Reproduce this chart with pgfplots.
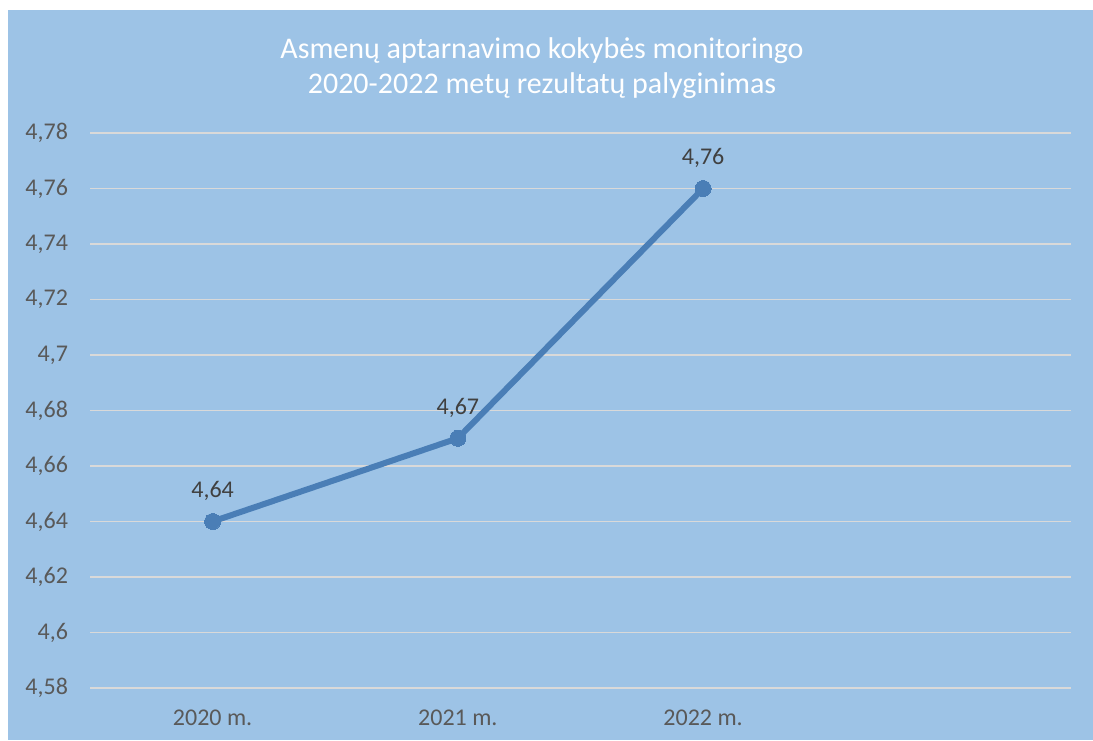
\documentclass[border=0pt]{standalone}
\usepackage{fontspec}
\setmainfont{Carlito}
\usepackage{pgfplots}
\pgfplotsset{compat=1.18}
\definecolor{bgblue}{HTML}{9DC3E6}
\definecolor{gridc}{HTML}{D9D9D9}
\definecolor{linec}{HTML}{4A7EB6}
\definecolor{tickc}{HTML}{595959}
\definecolor{labc}{HTML}{404040}
\begin{document}
\begin{tikzpicture}
\useasboundingbox (0,0) rectangle (546.5pt,370pt);
\fill[white] (0,0) rectangle (546.5pt,370pt);
\fill[bgblue] (4pt,0) rectangle (546.5pt,365pt);
\node[white, align=center, font=\fontsize{15}{17.5}\selectfont] at (271pt,336pt)
  {Asmenų aptarnavimo kokybės monitoringo\\2020-2022 metų rezultatų palyginimas};
\begin{axis}[
  at={(45pt,26pt)}, anchor=south west,
  scale only axis, width=490.5pt, height=277.5pt,
  xmin=-0.5, xmax=3.5, ymin=4.58, ymax=4.78,
  xtick={0,1,2}, xticklabels={2020 m., 2021 m., 2022 m.},
  ytick={4.58,4.60,4.62,4.64,4.66,4.68,4.70,4.72,4.74,4.76,4.78},
  ymajorgrids, grid style={gridc, line width=0.75pt},
  axis line style={draw=none},
  major tick length=0pt,
  tick label style={font=\fontsize{12}{14}\selectfont, color=tickc},
  yticklabel style={xshift=-7.5pt},
  xticklabel style={yshift=-7.5pt},
  /pgf/number format/.cd, use comma, assume math mode=true,
]
\addplot[linec, line width=3pt, line join=round, mark=*, mark size=4pt,
  mark options={fill=linec, draw=linec, line width=0pt},
  nodes near coords,
  nodes near coords style={font=\fontsize{12}{14}\selectfont, color=labc, yshift=7pt}]
  coordinates {(0,4.64) (1,4.67) (2,4.76)};
\end{axis}
\end{tikzpicture}
\end{document}
